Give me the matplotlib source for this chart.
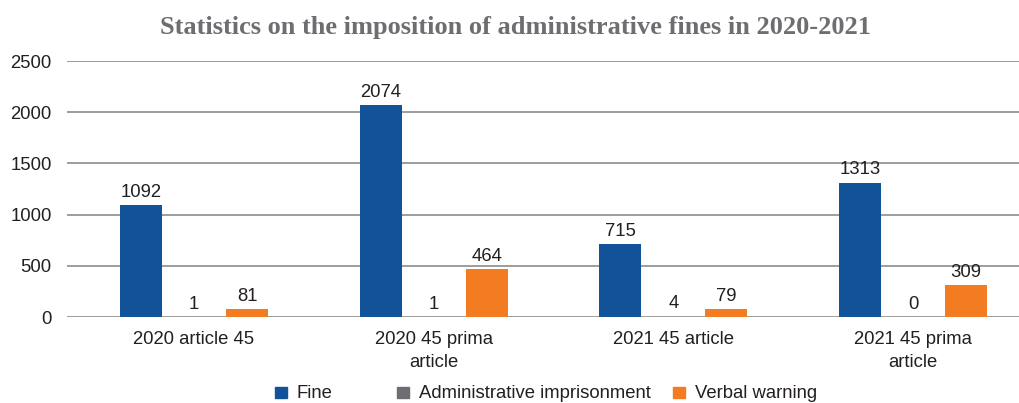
import numpy as np
import matplotlib.pyplot as plt
from matplotlib.patches import Rectangle

categories = ["2020 article 45", "2020 45 prima\narticle", "2021 45 article", "2021 45 prima\narticle"]
fine = [1092, 2074, 715, 1313]
imprisonment = [1, 1, 4, 0]
warning = [81, 464, 79, 309]
series_names = ["Fine", "Administrative imprisonment", "Verbal warning"]
colors = ["#115299", "#6d6e71", "#f37b21"]

plt.rcParams['font.family'] = ['Liberation Sans', 'DejaVu Sans']
txt = "#231f20"
fs = 13.3
W, H = 1020, 403

fig = plt.figure(figsize=(W / 100, H / 100), dpi=100)
ax = fig.add_axes([67 / W, 86 / H, (W - 67) / W, 256 / H])

x = np.arange(len(categories))
w = 0.175
off = 0.221
for i, (vals, col) in enumerate(zip([fine, imprisonment, warning], colors)):
    bars = ax.bar(x + (i - 1) * off, vals, w, color=col, zorder=3)
    for b, v in zip(bars, vals):
        ax.text(b.get_x() + b.get_width() / 2, v + 40, str(v), ha="center", va="bottom",
                fontsize=fs, color=txt, clip_on=False)

ax.set_xlim(-0.53, 3.446)
ax.set_ylim(0, 2500)
ax.set_yticks([0, 500, 1000, 1500, 2000, 2500])
ax.grid(axis="y", color="#8c8c8c", linewidth=1.2, zorder=0)
for s in ax.spines.values():
    s.set_visible(False)
ax.set_xticks(x)
ax.set_xticklabels(categories, fontsize=fs, color=txt, linespacing=1.45)
ax.tick_params(axis="x", length=0, pad=10)
ax.tick_params(axis="y", length=0, pad=11, labelsize=fs, labelcolor=txt)

fig.text(0.505, 0.933, "Statistics on the imposition of administrative fines in 2020-2021",
         ha="center", va="center", fontsize=19, fontweight="bold", color="#6d6e71",
         family="Liberation Serif")

# legend row along the bottom, in pixel positions
leg_x = [275, 397, 673]
for lx, name, col in zip(leg_x, series_names, colors):
    fig.add_artist(Rectangle((lx / W, 1 - 398 / H), 12 / W, 11 / H, color=col,
                             transform=fig.transFigure))
    fig.text((lx + 22) / W, 1 - 393 / H, name, ha="left", va="center",
             fontsize=fs, color=txt)

fig.savefig("out.png", dpi=100)
